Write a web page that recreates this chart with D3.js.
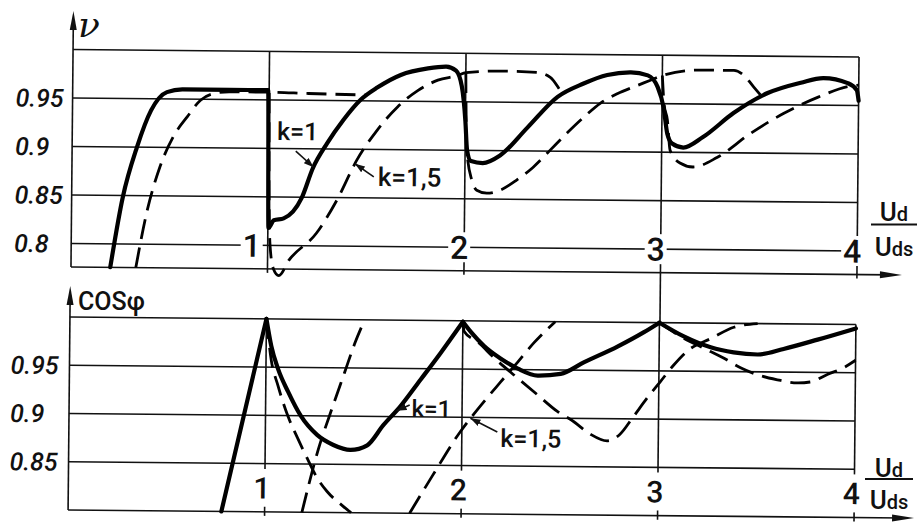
<!DOCTYPE html>
<html>
<head>
<meta charset="utf-8">
<script src="https://cdn.jsdelivr.net/npm/d3@7"></script>
<style>
  body { margin: 0; background: #fff; }
  text { font-family: Roboto, "Liberation Sans", sans-serif; font-weight: 500; fill: #111; }
</style>
</head>
<body>
<div id="chart"></div>
<script>
const width = 918, height = 525;
const ink = '#111';

// ticks
const xTicks = [1, 2, 3, 4];
const nuTicks = [0.8, 0.85, 0.9, 0.95];
const cosTicks = [0.85, 0.9, 0.95];

// efficiency nu, k=1 (solid)
const nuK1 = [[0.20,0.776],[0.26,0.848],[0.33,0.900],[0.40,0.938],[0.48,0.957],[0.56,0.960],[0.80,0.960],[0.995,0.960],
  [1.003,0.818],[1.03,0.826],[1.08,0.828],[1.17,0.849],[1.226,0.880],[1.298,0.906],[1.379,0.930],[1.466,0.951],
  [1.552,0.964],[1.669,0.977],[1.807,0.984],[1.90,0.986],[1.95,0.982],[1.98,0.966],[2.0,0.930],[2.01,0.900],
  [2.03,0.889],[2.09,0.887],[2.178,0.895],[2.316,0.924],[2.468,0.956],[2.60,0.970],[2.72,0.979],[2.84,0.982],
  [2.926,0.979],[2.977,0.967],[3.008,0.946],[3.028,0.919],[3.053,0.909],[3.11,0.905],[3.21,0.916],[3.364,0.941],
  [3.537,0.962],[3.705,0.973],[3.82,0.978],[3.944,0.973],[3.99,0.966],[4.0,0.955]];

// efficiency nu, k=1,5 (dashed) - pieces
const nuK15a = [[0.33,0.776],[0.382,0.832],[0.448,0.880],[0.514,0.911],[0.585,0.932],[0.651,0.949],[0.718,0.956],
  [0.80,0.958],[1.0,0.958],[1.2,0.957],[1.49,0.956]];
const nuK15b = [[1.0,0.957],[1.004,0.86],[1.012,0.80],[1.03,0.776],[1.058,0.769],[1.109,0.785],[1.247,0.813],
  [1.349,0.847],[1.45,0.889],[1.552,0.920],[1.654,0.944],[1.756,0.961],[1.858,0.972],[1.959,0.977],[2.0,0.980],
  [2.178,0.982],[2.36,0.981],[2.43,0.976],[2.48,0.963],[2.50,0.957]];
const nuK15c = [[2.0,0.980],[2.004,0.93],[2.01,0.897],[2.036,0.869],[2.061,0.859],[2.112,0.856],[2.178,0.859],
  [2.265,0.870],[2.346,0.883],[2.433,0.901],[2.519,0.919],[2.601,0.935],[2.687,0.950],[2.774,0.960],[2.855,0.967],
  [2.94,0.974],[3.0,0.979],[3.196,0.985],[3.364,0.985],[3.415,0.980],[3.466,0.968],[3.50,0.960]];
const nuK15d = [[3.0,0.979],[3.01,0.95],[3.028,0.933],[3.043,0.902],[3.094,0.889],[3.16,0.885],[3.282,0.895],
  [3.45,0.920],[3.618,0.941],[3.791,0.958],[3.959,0.970],[4.0,0.971]];

// cos phi, k=1 (solid) - pieces between peaks
const cosK1a = [[0.78,0.80],[1.0,1.0]];
const cosK1b = [[1.0,1.0],[1.026,0.972],[1.062,0.948],[1.113,0.925],[1.179,0.900],[1.265,0.880],[1.347,0.870],
  [1.433,0.865],[1.519,0.870],[1.60,0.891],[1.687,0.911],[1.789,0.939],[1.89,0.967],[2.0,0.999]];
const cosK1c = [[2.0,0.999],[2.043,0.988],[2.109,0.974],[2.195,0.961],[2.282,0.951],[2.383,0.944],[2.5,0.946],
  [2.617,0.958],[2.79,0.975],[2.922,0.990],[3.0,1.0]];
const cosK1d = [[3.0,1.0],[3.125,0.986],[3.262,0.975],[3.379,0.970],[3.501,0.968],[3.633,0.974],[3.806,0.984],[4.0,0.996]];

// cos phi, k=1,5 (dashed) - pieces
const cosK15a = [[1.0,1.0],[1.026,0.958],[1.062,0.931],[1.113,0.900],[1.164,0.877],[1.214,0.856],[1.265,0.836],
  [1.316,0.822],[1.397,0.807],[1.44,0.80]];
const cosK15b = [[1.19,0.80],[1.27,0.865],[1.34,0.909],[1.40,0.945],[1.45,0.975],[1.50,1.0]];
const cosK15c = [[1.738,0.80],[1.855,0.84],[1.992,0.885],[2.043,0.899],[2.109,0.916],[2.195,0.937],[2.282,0.958],
  [2.363,0.978],[2.47,1.0]];
const cosK15d = [[2.0,1.0],[2.007,0.989],[2.078,0.978],[2.16,0.962],[2.282,0.941],[2.383,0.924],[2.485,0.907],
  [2.566,0.897],[2.652,0.884],[2.739,0.877],[2.805,0.884],[2.871,0.902],[2.942,0.922],[3.008,0.939],[3.074,0.956],
  [3.15,0.972],[3.262,0.984],[3.379,0.996],[3.50,1.0]];
const cosK15e = [[3.0,1.0],[3.125,0.984],[3.226,0.974],[3.328,0.964],[3.415,0.954],[3.501,0.947],[3.603,0.942],
  [3.705,0.939],[3.77,0.940],[3.857,0.948],[3.938,0.955],[4.0,0.963]];

const tilt = 0.55; // the scanned sheet is slightly rotated

let svg = d3.select('#chart').append('svg')
  .attr('width', width).attr('height', height);
svg.append('rect').attr('width', width).attr('height', height).attr('fill', '#fff');

svg.append('defs').append('marker')
  .attr('id', 'head')
  .attr('viewBox', '0 -4 10 8')
  .attr('refX', 10).attr('refY', 0)
  .attr('markerWidth', 10).attr('markerHeight', 8)
  .attr('markerUnits', 'userSpaceOnUse')
  .attr('orient', 'auto')
  .append('path').attr('d', 'M0,-3.5L10,0L0,3.5Z').attr('fill', ink);

function panel(g, x, y, opt) {
  const [x0, x4] = [x(0), x(4)];
  const yBot = y.domain()[0], yTopV = 1.0;
  const grid = g.append('g').attr('stroke', ink).attr('stroke-width', 1.6);
  // horizontal grid + top frame
  grid.selectAll('.h').data(opt.ticks.concat([yTopV])).enter().append('line')
    .attr('x1', x0).attr('x2', x4).attr('y1', d => y(d)).attr('y2', d => y(d));
  // verticals
  grid.selectAll('.v').data(xTicks).enter().append('line')
    .attr('x1', d => x(d)).attr('x2', d => x(d))
    .attr('y1', y(yTopV))
    .attr('y2', d => y(yBot) + (d === opt.longTick ? opt.longLen : 4));
  // axes
  grid.append('line').attr('x1', x0).attr('x2', x4 + opt.arrowX - 12)
    .attr('y1', y(yBot)).attr('y2', y(yBot));
  grid.append('line').attr('x1', x0).attr('x2', x0)
    .attr('y1', y(yBot)).attr('y2', opt.arrowY + 12);
  g.append('path').attr('fill', ink)
    .attr('d', `M${x4 + opt.arrowX},${y(yBot)}l-22,-3.5v7z`);
  g.append('path').attr('fill', ink)
    .attr('d', `M${x0},${opt.arrowY}l-3.5,19h7z`);

  // value labels on the left
  g.selectAll('.yl').data(opt.ticks).enter().append('text')
    .attr('x', opt.labelX).attr('y', d => y(d)).attr('dy', '0.36em')
    .attr('font-size', 25).attr('font-style', 'italic')
    .text(d => String(d));

  // x labels with white backing that breaks the grid
  const xl = g.selectAll('.xl').data(xTicks).enter().append('g')
    .attr('transform', d => `translate(${x(d) + opt.dx(d)},${opt.labelY})`);
  xl.append('rect').attr('x', -11).attr('y', -opt.bgH / 2).attr('width', 22).attr('height', opt.bgH).attr('fill', '#fff');
  xl.append('text').attr('text-anchor', 'middle').attr('dy', '0.36em')
    .attr('font-size', opt.numSize).text(d => d);

  const line = d3.line().x(d => x(d[0])).y(d => y(d[1])).curve(d3.curveMonotoneX);
  const curves = g.append('g').attr('fill', 'none').attr('stroke', '#000');
  curves.selectAll('.dash').data(opt.dashed).enter().append('path')
    .attr('d', line).attr('stroke-width', 2.8).attr('stroke-dasharray', '20,9');
  curves.selectAll('.solid').data(opt.solid).enter().append('path')
    .attr('d', line).attr('stroke-width', 4.2)
    .attr('stroke-linejoin', 'round').attr('stroke-linecap', 'round');
}

function note(g, x, y, at, tail, txt, label, size) {
  const px = x(at[0]), py = y(at[1]);
  g.append('line').attr('x1', px + tail[0]).attr('y1', py + tail[1])
    .attr('x2', px).attr('y2', py)
    .attr('stroke', ink).attr('stroke-width', 1.6).attr('marker-end', 'url(#head)');
  g.append('text').attr('x', px + txt[0]).attr('y', py + txt[1])
    .attr('font-size', size).text(label);
}

// top panel: efficiency
const xTop = d3.scaleLinear().domain([0, 4]).range([72, 858]);
const yTop = d3.scaleLinear().domain([0.7758, 1.0]).range([267, 49.5]);
const gTop = svg.append('g').attr('transform', `rotate(${tilt},72,160)`);
panel(gTop, xTop, yTop, {
  ticks: nuTicks, labelX: 15, arrowX: 45, arrowY: 11,
  longTick: 3, longLen: 50,
  dx: d => d === 1 ? -16 : -5, labelY: yTop(0.8), bgH: 30, numSize: 32,
  solid: [nuK1], dashed: [nuK15a, nuK15b, nuK15c, nuK15d]
});
note(gTop, xTop, yTop, [1.23, 0.881], [-18, -16], [-37, -27], 'k=1', 25);
note(gTop, xTop, yTop, [1.44, 0.885], [19, 13], [23, 22], 'k=1,5', 26);

// bottom panel: power factor
const xBot = d3.scaleLinear().domain([0, 4]).range([69, 855]);
const yBot = d3.scaleLinear().domain([0.8, 1.0]).range([510, 317]);
const gBot = svg.append('g').attr('transform', `rotate(${tilt},70,415)`);
panel(gBot, xBot, yBot, {
  ticks: cosTicks, labelX: 10, arrowX: 60, arrowY: 286,
  longTick: null, longLen: 5,
  dx: d => -3, labelY: (yBot(0.85) + yBot(0.8)) / 2, bgH: 38, numSize: 30,
  solid: [cosK1a, cosK1b, cosK1c, cosK1d], dashed: [cosK15a, cosK15b, cosK15c, cosK15d, cosK15e]
});
note(gBot, xBot, yBot, [1.667, 0.906], [13, -6], [15, 6], 'k=1', 24);
note(gBot, xBot, yBot, [2.043, 0.899], [27, 13.5], [30, 28.5], 'k=1,5', 25);

// axis titles
svg.append('text').attr('x', 78).attr('y', 37)
  .attr('font-size', 36).attr('font-style', 'italic')
  .style('font-family', '"DejaVu Serif", serif').text('ν');
const cosT = svg.append('text').attr('x', 78).attr('y', 310).attr('font-size', 25);
cosT.append('tspan').style('text-transform', 'uppercase').text('cos');
cosT.append('tspan').text('φ');

function ratio(cx, yNum, yLine, yDen, w) {
  const num = svg.append('text').attr('x', cx).attr('y', yNum).attr('text-anchor', 'middle').attr('font-size', 26);
  num.append('tspan').text('U');
  num.append('tspan').attr('font-size', 20).text('d');
  svg.append('line').attr('x1', cx - w / 2).attr('x2', cx + w / 2)
    .attr('y1', yLine).attr('y2', yLine).attr('stroke', ink).attr('stroke-width', 1.8);
  const den = svg.append('text').attr('x', cx).attr('y', yDen).attr('text-anchor', 'middle').attr('font-size', 26);
  den.append('tspan').text('U');
  den.append('tspan').attr('font-size', 20).text('ds');
}
ratio(894, 221, 224.5, 256, 46);
ratio(889, 477, 479, 509, 48);
</script>
</body>
</html>
